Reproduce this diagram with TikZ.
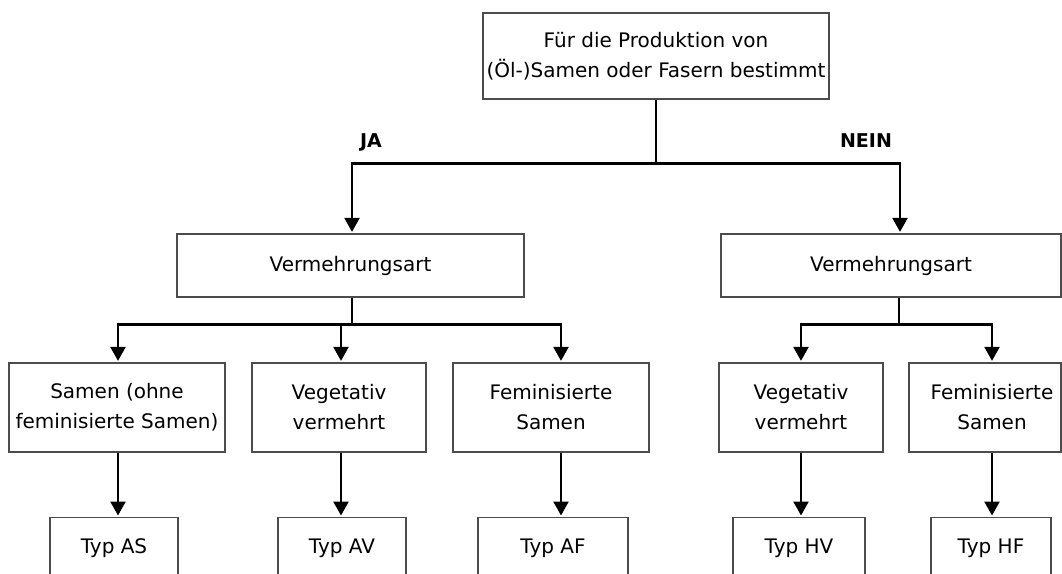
\documentclass[tikz,border=0pt]{standalone}
\usepackage{fontspec}
\setmainfont{DejaVu Sans}
\usetikzlibrary{arrows.meta}
\begin{document}
\begin{tikzpicture}[x=1pt,y=-1pt,
  box/.style={draw=black!70,line width=1.3pt,inner sep=0pt,align=center,
    font=\fontsize{20}{30}\selectfont},
  tbox/.style={box,anchor=north,text height=36pt,text depth=44pt},
  conn/.style={line width=2.4pt,black},
  arr/.style={conn,-{Triangle[length=14pt,width=15pt]},shorten >=1.5pt},
  lab/.style={font=\fontsize{19}{20}\selectfont\bfseries,anchor=base}]
\useasboundingbox (0,0) rectangle (1062,573);
\clip (0,0) rectangle (1062,573);
\fill[white] (0,0) rectangle (1062,573);
% nodes
\node[box,minimum width=346pt,minimum height=86pt] (top) at (656,56)
  {Für die Produktion von\\(Öl-)Samen oder Fasern bestimmt};
\node[box,minimum width=347pt,minimum height=63pt] (vL) at (350.5,265.5) {Vermehrungsart};
\node[box,minimum width=340pt,minimum height=63pt] (vR) at (891,265.5) {Vermehrungsart};
\node[box,minimum width=216pt,minimum height=89pt] (b1) at (117,407.5) {Samen (ohne\\feminisierte Samen)};
\node[box,minimum width=174pt,minimum height=89pt] (b2) at (339,407.5) {Vegetativ\\vermehrt};
\node[box,minimum width=196pt,minimum height=89pt] (b3) at (551,407.5) {Feminisierte\\Samen};
\node[box,minimum width=164pt,minimum height=89pt] (b4) at (801,407.5) {Vegetativ\\vermehrt};
\node[box,minimum width=152pt,minimum height=89pt] (b5) at (985,407.5) {\hspace*{14pt}Feminisierte\\\hspace*{14pt}Samen};
\node[tbox,minimum width=128pt] (t1) at (114,517) {Typ AS};
\node[tbox,minimum width=128pt] (t2) at (342,517) {Typ AV};
\node[tbox,minimum width=150pt] (t3) at (553,517) {Typ AF};
\node[tbox,minimum width=132pt] (t4) at (799,517) {Typ HV};
\node[tbox,minimum width=120pt] (t5) at (991,517) {Typ HF};
\node[lab] (ja) at (371,147) {JA};
\node[lab] (nein) at (866,147) {NEIN};
% connectors level 1
\draw[conn] (top.south) -- ++(0,64) coordinate (j1);
\draw[arr] (j1) -| ([xshift=1.5pt]vL.north);
\draw[arr] (j1) -| ([xshift=9pt]vR.north);
% left branch
\draw[conn] ([xshift=1.5pt]vL.south) -- ++(0,27) coordinate (j2);
\draw[arr] (j2) -| ([xshift=1pt]b1.north);
\draw[arr] ([xshift=2pt]b2.north |- j2) -- ([xshift=2pt]b2.north);
\draw[arr] (j2) -| ([xshift=10pt]b3.north);
% right branch
\draw[conn] ([xshift=8pt]vR.south) -- ++(0,27) coordinate (j3);
\draw[arr] (j3) -| (b4.north);
\draw[arr] (j3) -| ([xshift=7pt]b5.north);
% level 3
\draw[arr] ([xshift=1pt]b1.south) -- ([xshift=1pt]b1.south |- t1.north);
\draw[arr] ([xshift=2pt]b2.south) -- ([xshift=2pt]b2.south |- t2.north);
\draw[arr] ([xshift=10pt]b3.south) -- ([xshift=10pt]b3.south |- t3.north);
\draw[arr] (b4.south) -- (b4.south |- t4.north);
\draw[arr] ([xshift=7pt]b5.south) -- ([xshift=7pt]b5.south |- t5.north);
\end{tikzpicture}
\end{document}
